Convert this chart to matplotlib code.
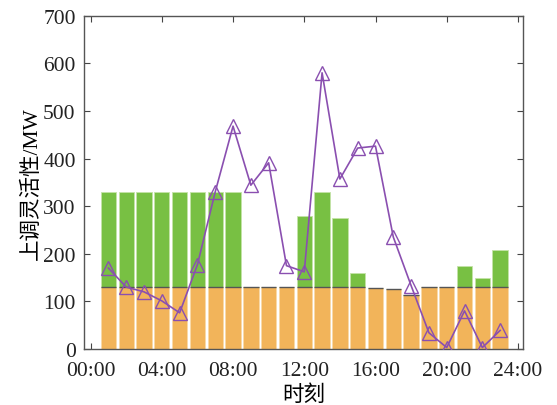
import matplotlib.pyplot as plt
import numpy as np

hours = np.arange(1, 24)
base = [130, 130, 130, 130, 130, 130, 130, 130, 130, 130, 130, 130, 130, 130, 130,
        129, 126, 114, 130, 130, 130, 130, 130]
total = [330, 330, 330, 330, 330, 330, 330, 330, 130, 130, 130, 280, 330, 275, 160,
         129, 126, 114, 130, 130, 174, 149, 207]
demand = [170, 130, 120, 101, 76, 177, 330, 468, 344, 391, 175, 162, 580, 357, 422,
          426, 235, 133, 34, 3, 80, 3, 39]
tick_pos = [0, 4, 8, 12, 16, 20, 24]
tick_lab = ['00:00', '04:00', '08:00', '12:00', '16:00', '20:00', '24:00']

serif = ['Liberation Serif', 'Noto Sans CJK SC']
plt.rcParams['font.family'] = serif
plt.rcParams['font.size'] = 15.5

fig = plt.figure(figsize=(5.57, 4.06), dpi=100)
ax = fig.add_axes([0.1508, 0.138, 0.7887, 0.8209])

w = 0.86
upper = np.array(total) - np.array(base)
ax.bar(hours, base, width=w, color='#F2B45A', edgecolor='#F8D9A8', linewidth=0.6, zorder=2)
ax.bar(hours, upper, bottom=base, width=w, color='#78C043', edgecolor='#C4E3A8',
       linewidth=0.6, zorder=2)
ax.hlines(base, hours - w / 2, hours + w / 2, colors='#555555', linewidth=1.0, zorder=3)

ax.plot(hours, demand, color='#8A4FB0', linewidth=1.2, marker='^', markersize=9.5,
        markerfacecolor='none', markeredgecolor='#8A4FB0', markeredgewidth=1.0, zorder=4)

ax.set_xlim(-0.37, 24.3)
ax.set_ylim(0, 700)
ax.set_xticks(tick_pos)
ax.set_xticklabels(tick_lab)
ax.set_yticks(range(0, 701, 100))
ax.tick_params(direction='in', top=True, right=True, length=4, width=0.8,
               colors='#444444', labelcolor='#222222')
ax.tick_params(axis='x', pad=9)
ax.tick_params(axis='y', pad=6)
for s in ax.spines.values():
    s.set_color('#555555')
    s.set_linewidth(1.0)

ax.set_xlabel('时刻', family=serif, labelpad=3)
ax.set_ylabel('上调灵活性/MW', family=serif, labelpad=1)

fig.savefig('out.png', dpi=100)
